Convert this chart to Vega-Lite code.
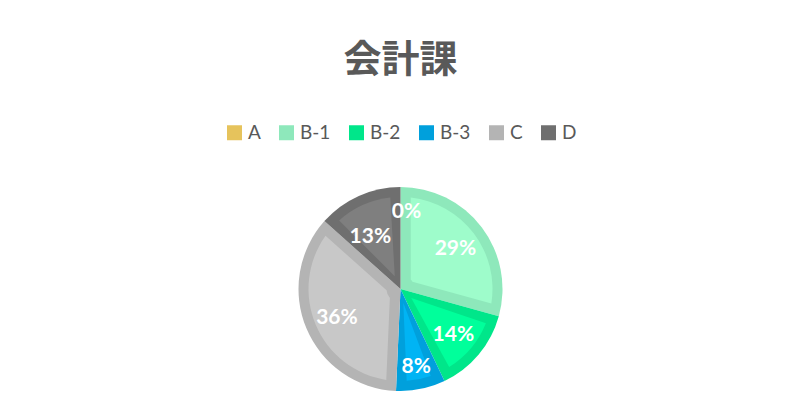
{
  "$schema": "https://vega.github.io/schema/vega-lite/v6.json",
  "width": 789,
  "height": 240,
  "padding": {"left": 6, "right": 5, "top": 42, "bottom": 0},
  "background": "white",
  "title": {
    "text": "会計課",
    "font": "Noto Sans CJK JP",
    "fontSize": 38,
    "fontWeight": "bold",
    "color": "#595959",
    "anchor": "middle",
    "offset": 43
  },
  "config": {
    "view": {"stroke": null},
    "legend": {"layout": {"top": {"anchor": "middle"}}}
  },
  "data": {
    "values": [
      {"cat": "A", "value": 0.0},
      {"cat": "B-1", "value": 0.293},
      {"cat": "B-2", "value": 0.136},
      {"cat": "B-3", "value": 0.078},
      {"cat": "C", "value": 0.359},
      {"cat": "D", "value": 0.134}
    ]
  },
  "encoding": {
    "theta": {"field": "value", "type": "quantitative", "stack": true},
    "order": {"field": "cat", "type": "nominal", "sort": "ascending"}
  },
  "layer": [
    {
      "mark": {"type": "arc", "outerRadius": 102},
      "encoding": {
        "color": {
          "field": "cat",
          "type": "nominal",
          "scale": {
            "domain": ["A", "B-1", "B-2", "B-3", "C", "D"],
            "range": ["#E6C35C", "#8EE8BB", "#00E68A", "#00A0DC", "#B4B4B4", "#6F6F6F"]
          },
          "legend": {
            "title": null,
            "orient": "top",
            "direction": "horizontal",
            "symbolType": "square",
            "symbolSize": 225,
            "symbolStrokeWidth": 0,
            "labelFont": "Lato",
            "labelFontSize": 19,
            "labelColor": "#595959",
            "labelOffset": 4,
            "columnPadding": 16,
            "offset": 26
          }
        }
      }
    },
    {
      "mark": {"type": "arc", "outerRadius": 92, "innerRadius": 14, "padAngle": 0.22},
      "encoding": {
        "fill": {
          "field": "cat",
          "type": "nominal",
          "scale": {
            "domain": ["A", "B-1", "B-2", "B-3", "C", "D"],
            "range": ["#F0CB63", "#9EFCCB", "#00FF9B", "#00B4F4", "#C8C8C8", "#7F7F7F"]
          },
          "legend": null
        }
      }
    },
    {
      "mark": {"type": "text", "radius": 69, "dy": 2, "font": "Lato", "fontSize": 21, "fontWeight": "bold", "color": "white"},
      "encoding": {
        "detail": {"field": "cat", "type": "nominal"},
        "text": {
          "condition": {"test": "indexof(['B-1','B-2','C'], datum.cat) >= 0", "field": "value", "type": "quantitative", "format": ".0%"},
          "value": ""
        }
      }
    },
    {
      "mark": {"type": "text", "radius": 79, "dy": 1, "font": "Lato", "fontSize": 21, "fontWeight": "bold", "color": "white"},
      "encoding": {
        "detail": {"field": "cat", "type": "nominal"},
        "text": {
          "condition": {"test": "datum.cat === 'B-3'", "field": "value", "type": "quantitative", "format": ".0%"},
          "value": ""
        }
      }
    },
    {
      "mark": {"type": "text", "radius": 59, "dx": -6, "dy": 2, "font": "Lato", "fontSize": 21, "fontWeight": "bold", "color": "white"},
      "encoding": {
        "detail": {"field": "cat", "type": "nominal"},
        "text": {
          "condition": {"test": "datum.cat === 'D'", "field": "value", "type": "quantitative", "format": ".0%"},
          "value": ""
        }
      }
    },
    {
      "mark": {"type": "text", "radius": 77, "dx": 6, "font": "Lato", "fontSize": 21, "fontWeight": "bold", "color": "white"},
      "encoding": {
        "detail": {"field": "cat", "type": "nominal"},
        "text": {
          "condition": {"test": "datum.cat === 'A'", "field": "value", "type": "quantitative", "format": ".0%"},
          "value": ""
        }
      }
    }
  ]
}
